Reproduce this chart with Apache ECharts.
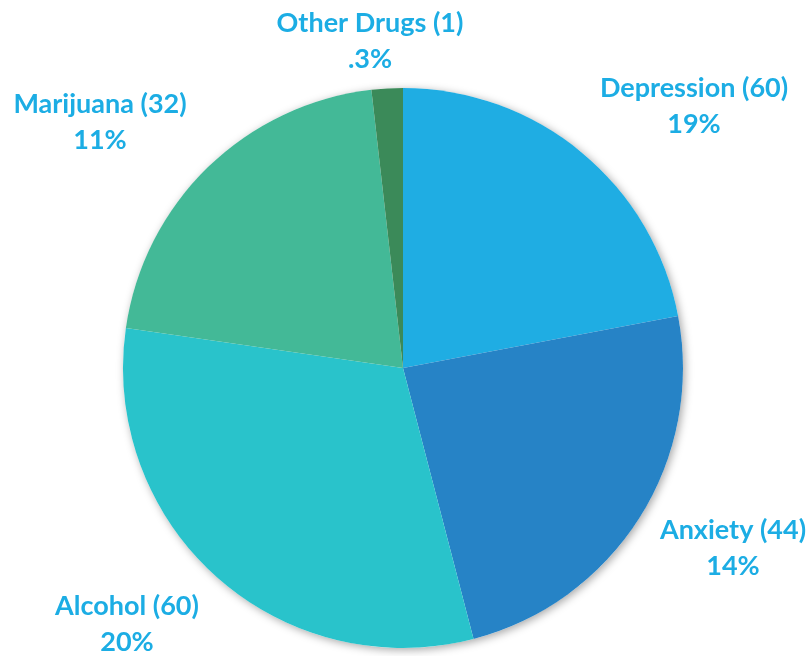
<!DOCTYPE html>
<html>
<head>
<meta charset="utf-8">
<script src="https://cdn.jsdelivr.net/npm/echarts@6/dist/echarts.min.js"></script>
<style>
  html, body { margin: 0; padding: 0; background: #fff; }
  #chart { width: 811px; height: 656px; }
</style>
</head>
<body>
<div id="chart"></div>
<script>
// slice shares as drawn (percent of the circle)
var names = ['Depression', 'Anxiety', 'Alcohol', 'Marijuana', 'Other Drugs'];
var shares = [22.0, 23.9, 31.3, 20.9, 1.8];
// what the labels say
var counts = [60, 44, 60, 32, 1];
var pcts = ['19%', '14%', '20%', '11%', '.3%'];
var colors = ['#1fade3', '#2683c6', '#29c3cb', '#43b997', '#3b8a59'];

// label centres
var labelPos = [[694, 106], [733, 548], [127, 624], [100, 122], [370, 41]];

var chart = echarts.init(document.getElementById('chart'));

var data = [];
for (var i = 0; i < names.length; i++) {
    data.push({ name: names[i], value: shares[i], itemStyle: { color: colors[i] } });
}

var option = {
    animation: false,
    series: [
        {
            // shadow under the pie
            type: 'pie',
            center: [403, 368],
            radius: [0, 280],
            silent: true,
            z: 1,
            label: { show: false },
            labelLine: { show: false },
            itemStyle: {
                color: '#fff',
                shadowBlur: 8,
                shadowColor: 'rgba(0,0,0,0.35)',
                shadowOffsetX: 2,
                shadowOffsetY: 2
            },
            data: [1]
        },
        {
            type: 'pie',
            center: [403, 368],
            radius: [0, 280],
            startAngle: 90,
            clockwise: true,
            z: 2,
            data: data,
            itemStyle: { borderWidth: 0 },
            labelLine: { show: false },
            label: {
                show: true,
                position: 'outside',
                color: '#1cade4',
                fontFamily: 'Lato',
                fontWeight: 'bold',
                fontSize: 27,
                lineHeight: 36,
                align: 'center',
                overflow: 'none',
                width: 300,
                formatter: function (p) {
                    var i = p.dataIndex;
                    return names[i] + ' (' + counts[i] + ')\n' + pcts[i];
                }
            },
            labelLayout: function (p) {
                var pos = labelPos[p.dataIndex];
                return { x: pos[0], y: pos[1], align: 'center', verticalAlign: 'middle', moveOverlap: null };
            }
        }
    ]
};
chart.setOption(option);
</script>
</body>
</html>
